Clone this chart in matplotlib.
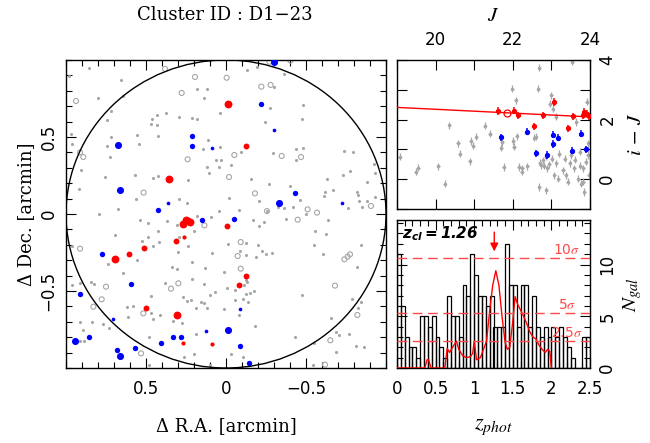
import matplotlib.pyplot as plt
import numpy as np
from matplotlib.patches import Circle
from matplotlib.ticker import MultipleLocator

plt.rcParams['mathtext.fontset'] = 'stix'
plt.rcParams['font.family'] = 'DejaVu Sans'

# ---------------- sky map: offsets from the cluster centre [arcmin] ----------------
gray_dots = [
    (0.854, 0.946), (0.656, 0.872), (0.979, 0.896), (0.642, 0.768), (0.798, 0.751), (0.179, 0.810),
    (0.119, 0.812), (0.1375, 0.755), (0.721, 0.669), (0.375, 0.658), (0.433, 0.643), (0.296, 0.630),
    (0.215, 0.621), (0.179, 0.615), (0.0375, 0.658), (0.746, 0.608), (0.4625, 0.615), (0.467, 0.587),
    (0.433, 0.576), (0.967, 0.517), (0.717, 0.502), (0.554, 0.513), (0.425, 0.506), (0.965, 0.452),
    (0.542, 0.457), (0.746, 0.439), (0.115, 0.483), (0.040, 0.437), (0.142, 0.420), (0.725, 0.368),
    (0.0625, 0.351), (0.029, 0.351), (0.119, 0.305), (0.044, 0.305), (0.908, 0.288), (0.108, 0.266),
    (0.758, 0.238), (0.567, 0.255), (0.454, 0.236), (0.423, 0.249), (0.235, 0.219), (0.917, 0.160),
    (0.5625, 0.095), (0.292, 0.095), (0.242, 0.074), (-0.019, 0.102), (0.673, 0.030), (0.042, 0.022),
    (0.792, -0.002),
    (-0.129, 0.935), (-0.194, 0.952), (-0.365, 0.907), (-0.300, 0.823), (-0.275, 0.688), (-0.483, 0.708),
    (-0.244, 0.600), (-0.477, 0.619), (-0.4375, 0.424), (-0.479, 0.431), (-0.294, 0.394), (-0.094, 0.403),
    (-0.435, 0.348), (-0.738, 0.409), (-0.796, 0.405), (-0.031, 0.316), (-0.158, 0.225), (-0.271, 0.195),
    (-0.733, 0.253), (-0.775, 0.279), (-0.883, 0.210), (-0.629, 0.229), (-0.923, 0.325), (-0.929, 0.268),
    (-0.402, 0.182), (-0.208, 0.084), (-0.460, 0.093), (-0.327, 0.048), (-0.365, 0.041), (-0.421, 0.048),
    (-0.619, 0.145), (-0.667, 0.154), (-0.615, 0.115), (-0.817, 0.145), (-0.827, 0.123), (-0.831, 0.087),
    (-0.883, 0.087), (-0.852, 0.048), (-0.765, 0.041), (-0.083, 0.026), (-0.254, 0.022), (-0.502, 0.002),
    (-0.931, 0.108),
    (0.179, -0.011), (0.096, -0.022), (0.5375, -0.039), (0.485, -0.061), (0.367, -0.043), (0.304, -0.069),
    (0.692, -0.139), (0.485, -0.147), (0.425, -0.113), (0.296, -0.152), (0.2, -0.110), (0.2375, -0.210),
    (0.523, -0.175), (0.458, -0.208), (0.421, -0.180), (0.9625, -0.208), (0.302, -0.247), (0.0875, -0.251),
    (-0.0125, -0.193), (0.554, -0.301), (0.7375, -0.325), (0.646, -0.385), (0.3375, -0.344), (0.304, -0.359),
    (0.2125, -0.310), (0.129, -0.348), (0.0125, -0.374), (0.2146, -0.424), (0.381, -0.446), (0.135, -0.457),
    (0.9625, -0.463), (0.915, -0.446), (0.844, -0.444), (0.823, -0.452), (-0.004, -0.483), (0.071, -0.506),
    (0.1, -0.526), (0.469, -0.530), (0.2667, -0.541), (0.2458, -0.563), (0.2167, -0.558), (0.1583, -0.574),
    (0.1375, -0.580), (0.1208, -0.610), (0.621, -0.602), (0.579, -0.595), (0.1875, -0.613), (0.0146, -0.619),
    (0.610, -0.671), (0.471, -0.645), (0.458, -0.684), (0.4125, -0.658), (0.3333, -0.695), (0.277, -0.706),
    (0.9125, -0.699), (0.8396, -0.699), (0.896, -0.753), (0.729, -0.742), (0.7667, -0.716), (0.479, -0.797),
    (0.1875, -0.779), (0.9125, -0.827), (0.8875, -0.823), (0.2625, -0.929), (0.2, -0.911), (0.479, -0.978),
    (0.1, -0.983),
    (-0.171, -0.039), (-0.206, -0.078), (-0.235, -0.054), (-0.375, -0.030), (-0.64, -0.037),
    (-0.123, -0.188), (-0.223, -0.238), (-0.248, -0.260), (-0.285, -0.251), (-0.2, -0.199), (-0.185, -0.279),
    (-0.125, -0.266), (-0.09, -0.238), (-0.556, -0.113), (-0.623, -0.130), (-0.552, -0.203), (-0.608, -0.260),
    (-0.844, -0.199), (-0.819, -0.342), (-0.127, -0.429), (-0.058, -0.494), (-0.129, -0.442), (-0.115, -0.463),
    (-0.127, -0.522), (-0.152, -0.515), (-0.175, -0.502), (-0.140, -0.569), (-0.108, -0.554), (-0.056, -0.558),
    (-0.0813, -0.658), (-0.475, -0.526), (-0.7875, -0.552), (-0.844, -0.569), (-0.827, -0.608), (-0.658, -0.673),
    (-0.183, -0.729), (-0.6875, -0.764), (-0.708, -0.788), (-0.767, -0.779), (-0.433, -0.801), (-0.552, -0.840),
    (-0.685, -0.894), (-0.8125, -0.857), (-0.865, -0.864), (-0.031, -0.907), (-0.108, -0.926), (-0.546, -0.983),
]
gray_open = [
    (0.381, 0.942), (0.194, 0.890), (-0.004, 0.885), (0.9375, 0.734), (0.277, 0.786), (0.9125, 0.400),
    (0.892, 0.370), (0.240, 0.355), (-0.019, 0.240), (0.515, 0.139),
    (-0.271, 0.989), (-0.402, 0.996), (-0.221, 0.827), (-0.279, 0.838), (-0.348, 0.377), (-0.052, 0.383),
    (-0.469, 0.370), (-0.181, 0.134), (-0.906, 0.052), (-0.510, 0.030), (-0.569, 0.009),
    (0.135, -0.074), (0.9125, -0.225), (0.298, -0.450), (0.75, -0.472), (0.344, -0.485), (0.777, -0.554),
    (0.829, -0.602), (0.517, -0.645), (0.531, -0.905),
    (-0.256, 0.019), (-0.448, -0.037), (-0.092, -0.182), (-0.073, -0.273), (-0.740, -0.294),
    (-0.760, -0.277), (-0.775, -0.262), (-0.092, -0.355), (-0.681, -0.465), (-0.821, -0.656),
    (-0.652, -0.820), (-0.619, -0.978),
]
# red-sequence members, grouped by brightness
red_bright = [(0.25, -0.037), (0.267, -0.065), (0.225, -0.052), (0.696, -0.294), (0.304, -0.658),
              (0.358, 0.229), (-0.010, 0.716)]
red_mid = [(0.2375, -0.039), (0.3125, -0.173), (0.515, -0.219), (0.608, -0.260), (0.5, -0.608),
           (-0.004, -0.076), (-0.127, 0.439), (-0.127, -0.403), (-0.079, -0.459)]
red_faint = [(0.260, -0.149), (0.2708, -0.835), (0.0854, -0.844)]
# blue galaxies at the cluster redshift
blue_bright = [(-0.300, 0.985), (0.673, 0.446), (0.660, 0.158), (0.946, -0.827), (0.660, -0.922),
               (-0.333, 0.074), (-0.0125, -0.753)]
blue_mid = [(0.210, 0.509), (0.2125, 0.444), (-0.219, 0.716), (-0.429, 0.139), (0.427, 0.026),
            (0.594, -0.452), (0.9125, -0.519), (0.854, -0.801), (0.404, -0.835), (0.329, -0.797),
            (0.2833, -0.801), (0.681, -0.883), (0.571, -0.868), (-0.0875, -0.859), (-0.142, -0.965),
            (0.773, -0.262), (-0.05, -0.030), (0.152, -0.041)]
blue_faint = [(0.085, 0.426), (0.365, 0.069), (-0.300, 0.545), (-0.725, 0.069), (0.704, -0.680),
              (0.125, -0.762), (-0.09, -0.619)]

# ---------------- colour-magnitude diagram ----------------
cmd_gray = [
    (19.07, 0.75), (19.48, 0.25), (19.55, 0.38), (20.07, 0.44), (20.24, -0.15), (20.36, 1.81),
    (20.58, 1.20), (20.63, 0.86), (20.89, 0.60), (20.91, 1.28), (20.98, 1.12), (21.05, 1.42),
    (21.27, 1.79), (21.41, 1.52), (21.72, 1.25), (21.70, 1.05), (21.77, 0.41), (21.99, 3.04),
    (22.08, 2.65), (22.01, 1.28), (22.03, 1.09), (22.10, 1.44), (22.15, 0.41), (22.23, 0.25),
    (22.25, 0.36), (22.37, 0.44), (22.56, 1.39), (22.66, 3.04), (22.68, 3.74), (22.70, 0.55),
    (22.68, -0.26), (22.73, 0.47), (22.78, 0.64), (22.87, -0.37), (22.89, 0.36), (22.96, 2.54),
    (23.00, 2.82), (23.04, 2.37), (23.01, 0.69), (23.08, 0.13), (23.13, 0.53), (23.11, 2.09),
    (23.18, 0.02), (23.30, 0.30), (23.34, 0.69), (23.37, 0.13), (23.42, -0.09), (23.47, 0.53),
    (23.51, 0.81), (23.54, 3.94), (23.59, 0.36), (23.65, 1.92), (23.70, 0.02), (23.73, 0.92),
    (23.77, -0.15), (23.82, 0.36), (23.83, -0.09), (23.85, -0.43), (23.89, 0.58), (23.92, 2.60),
    (23.94, 0.81), (23.97, 0.13), (22.59, 1.42), (22.80, 0.45), (22.85, 0.75), (22.95, 0.50),
    (23.20, 0.85), (23.60, 0.65), (23.75, 0.45), (23.95, 1.20),
]
cmd_red = [(21.61, 2.29), (22.03, 2.30), (22.13, 2.14), (22.56, 1.78), (22.79, 2.15), (23.08, 2.59),
           (23.42, 1.71), (23.56, 2.11), (23.83, 2.14), (23.92, 2.20), (23.97, 2.11), (23.85, 2.26)]
cmd_red_open = [(21.86, 2.22)]
cmd_blue = [(21.70, 1.40), (22.37, 1.59), (22.61, 0.87), (22.89, 0.81), (23.04, 1.49), (23.04, 1.18),
            (23.18, 1.39), (23.54, 0.95), (23.77, 1.53), (23.90, 1.01)]
rs_J = [19.0, 24.0]
rs_col = [2.41, 2.09]
J_err, col_err = 0.04, 0.12

# ---------------- photometric-redshift histogram ----------------
z_edges = np.arange(0, 2.501, 0.05)
n_gal = [11, 6, 3, 2, 2, 1, 5, 5, 4, 5, 3, 2, 1, 7, 5, 5, 3, 8, 7, 11,
         9, 7, 7, 6, 7, 4, 4, 4, 12, 8, 8, 4, 8, 8, 4, 7, 4, 3, 4, 3,
         4, 3, 4, 3, 2, 1, 0, 0, 3, 3]
dens_z = [0.0, 0.04, 0.05, 0.36, 0.39, 0.41, 0.44, 0.62, 0.65, 0.68, 0.72, 0.77, 0.80, 0.85,
          0.90, 0.95, 0.98, 1.00, 1.03, 1.08, 1.12, 1.16, 1.20, 1.24, 1.28, 1.32, 1.36, 1.40,
          1.43, 1.46, 1.50, 1.53, 1.56, 1.60, 1.64, 1.68, 1.72, 1.76, 1.80, 1.84, 1.88, 1.92,
          1.95, 1.98, 2.00]
dens_n = [0.0, 0.0, 0.0, 0.0, 0.8, 0.8, 0.0, 0.0, 1.9, 1.5, 2.0, 2.6, 1.8, 1.2,
          1.0, 1.1, 1.4, 2.6, 0.8, 1.0, 1.8, 2.6, 5.5, 8.0, 9.4, 8.0, 5.0, 2.5,
          1.8, 2.0, 4.5, 6.9, 6.2, 5.6, 5.0, 4.3, 3.5, 3.0, 2.8, 2.2, 1.8, 1.5,
          1.8, 1.6, 0.0]
sigma = 1.06
sig_levels = [2.5, 5, 10]
z_cl = 1.26

fig = plt.figure(figsize=(6.5, 4.43), dpi=100)


def style_ticks(ax, major=7, minor=4):
    ax.tick_params(which='both', direction='in', top=True, bottom=True, left=True, right=True,
                   width=0.8, labelsize=12)
    ax.tick_params(which='major', length=major)
    ax.tick_params(which='minor', length=minor)
    for s in ax.spines.values():
        s.set_linewidth(1.0)


def centre_label(lbl):
    lbl.set_horizontalalignment('center')
    lbl.set_verticalalignment('center')


# left: sky distribution
ax = fig.add_axes([66 / 650, 75 / 443, 320 / 650, 308 / 443])
gd = np.array(gray_dots)
go = np.array(gray_open)
ax.scatter(gd[:, 0], gd[:, 1], s=5, color='#a6a6a6', lw=0, zorder=2)
ax.scatter(go[:, 0], go[:, 1], s=13, facecolor='none', edgecolor='#a6a6a6', lw=0.8, zorder=2)
for pts, size in [(blue_bright, 26), (blue_mid, 15), (blue_faint, 7)]:
    p = np.array(pts)
    ax.scatter(p[:, 0], p[:, 1], s=size, color='#0000ff', lw=0, zorder=3)
for pts, size in [(red_bright, 32), (red_mid, 18), (red_faint, 9)]:
    p = np.array(pts)
    ax.scatter(p[:, 0], p[:, 1], s=size, color='#ff0000', lw=0, zorder=4)
ax.add_patch(Circle((0, 0), 1.0, fill=False, color='k', lw=1.0, zorder=5))
ax.set_xlim(1, -1)
ax.set_ylim(-1, 1)
ax.xaxis.set_minor_locator(MultipleLocator(0.1))
ax.yaxis.set_minor_locator(MultipleLocator(0.1))
ax.set_xticks([0.5, 0, -0.5])
ax.set_xticklabels(['0.5', '0', '\u22120.5'])
ax.set_yticks([-0.5, 0, 0.5])
ax.set_yticklabels(['\u22120.5', '0', '0.5'], rotation=90, va='center')
style_ticks(ax)
ax.tick_params(axis='x', pad=9)
ax.tick_params(axis='y', pad=6)
ax.set_xlabel('\u0394 R.A. [arcmin]', family='DejaVu Serif', fontsize=13)
ax.set_ylabel('\u0394 Dec. [arcmin]', family='DejaVu Serif', fontsize=13)
centre_label(ax.xaxis.label)
centre_label(ax.yaxis.label)
ax.xaxis.set_label_coords(0.5, -0.19)
ax.yaxis.set_label_coords(-0.125, 0.5)
fig.text(225 / 650, 1 - 15 / 443, 'Cluster ID : D1\u221223', family='DejaVu Serif', fontsize=13,
         ha='center', va='center')

# top right: colour-magnitude diagram
ax2 = fig.add_axes([397 / 650, 234 / 443, 193 / 650, 149 / 443])
cg = np.array(cmd_gray)
ax2.errorbar(cg[:, 0], cg[:, 1], xerr=J_err, yerr=col_err, fmt='o', ms=1.5, color='#a6a6a6',
             elinewidth=0.9, capsize=0, zorder=2)
ax2.plot(rs_J, rs_col, color='#ff0000', lw=1.0, zorder=3)
cr = np.array(cmd_red)
ax2.errorbar(cr[:, 0], cr[:, 1], xerr=J_err, yerr=col_err, fmt='o', ms=2.8, color='#ff0000',
             elinewidth=1.1, capsize=0, zorder=4)
co = np.array(cmd_red_open)
ax2.errorbar(co[:, 0], co[:, 1], fmt='o', ms=5, mfc='none', mec='#ff0000', mew=0.9,
             zorder=4)
cb = np.array(cmd_blue)
ax2.errorbar(cb[:, 0], cb[:, 1], xerr=J_err, yerr=col_err, fmt='o', ms=2.8, color='#0000ff',
             elinewidth=1.1, capsize=0, zorder=4)
ax2.set_xlim(19, 24)
ax2.set_ylim(-1, 4)
style_ticks(ax2)
ax2.xaxis.tick_top()
ax2.tick_params(which='both', bottom=True, labelbottom=False, labeltop=True, pad=8)
ax2.set_xticks([19, 20, 21, 22, 23, 24])
ax2.set_xticklabels(['', '20', '', '22', '', '24'])
ax2.yaxis.tick_right()
ax2.tick_params(axis='y', which='both', left=True, labelleft=False, labelright=True, pad=6)
ax2.set_yticks([-1, 0, 1, 2, 3, 4])
ax2.set_yticklabels(['', '0', '', '2', '', '4'], rotation=90, va='center')
ax2.set_xlabel('$J$', fontsize=15)
ax2.xaxis.set_label_position('top')
centre_label(ax2.xaxis.label)
ax2.xaxis.set_label_coords(0.5, 1.30)
ax2.set_ylabel('$i\\,-\\,J$', fontsize=15)
ax2.yaxis.set_label_position('right')
ax2.yaxis.label.set_rotation(90)
centre_label(ax2.yaxis.label)
ax2.yaxis.set_label_coords(1.233, 0.5)

# bottom right: photometric redshift distribution
ax3 = fig.add_axes([397 / 650, 75 / 443, 193 / 650, 148 / 443])
ax3.bar(z_edges[:-1], n_gal, width=0.05, align='edge', fill=False, edgecolor='k', lw=0.9, zorder=2)
ax3.plot(dens_z, dens_n, color='#ff0000', lw=1.0, zorder=3)
for k in sig_levels:
    ax3.axhline(k * sigma, color='#ff4a4a', lw=1.0, dashes=(7, 4), zorder=4)
    lbl = '%g' % k + '$\\sigma$'
    ax3.text(2.2, k * sigma + 0.1, lbl, color='#ff4a4a', fontsize=10, ha='center', va='bottom',
             zorder=5)
ax3.annotate('', xy=(z_cl, 11.0), xytext=(z_cl, 13.4),
             arrowprops=dict(arrowstyle='-|>', color='#ff0000', lw=1.0, mutation_scale=12))
ax3.text(0.07, 13.0, '$\\mathbfit{z_{cl}{=}1.26}$', fontsize=11, ha='left', va='center',
         math_fontfamily='dejavusans')
ax3.set_xlim(0, 2.5)
ax3.set_ylim(0, 14.3)
ax3.xaxis.set_minor_locator(MultipleLocator(0.1))
ax3.yaxis.set_minor_locator(MultipleLocator(1))
style_ticks(ax3)
ax3.set_xticks([0, 0.5, 1, 1.5, 2, 2.5])
ax3.set_xticklabels(['0', '0.5', '1', '1.5', '2', '2.5'])
ax3.tick_params(axis='x', pad=9)
ax3.yaxis.tick_right()
ax3.tick_params(axis='y', which='both', left=True, labelleft=False, labelright=True, pad=6)
ax3.set_yticks([0, 5, 10])
ax3.set_yticklabels(['0', '5', '10'], rotation=90, va='center')
ax3.set_xlabel('$z_{phot}$', fontsize=16)
centre_label(ax3.xaxis.label)
ax3.xaxis.set_label_coords(0.5, -0.40)
ax3.set_ylabel('$N_{gal}$', fontsize=15)
ax3.yaxis.set_label_position('right')
ax3.yaxis.label.set_rotation(90)
centre_label(ax3.yaxis.label)
ax3.yaxis.set_label_coords(1.223, 0.5)

fig.savefig('out.png', dpi=100)
